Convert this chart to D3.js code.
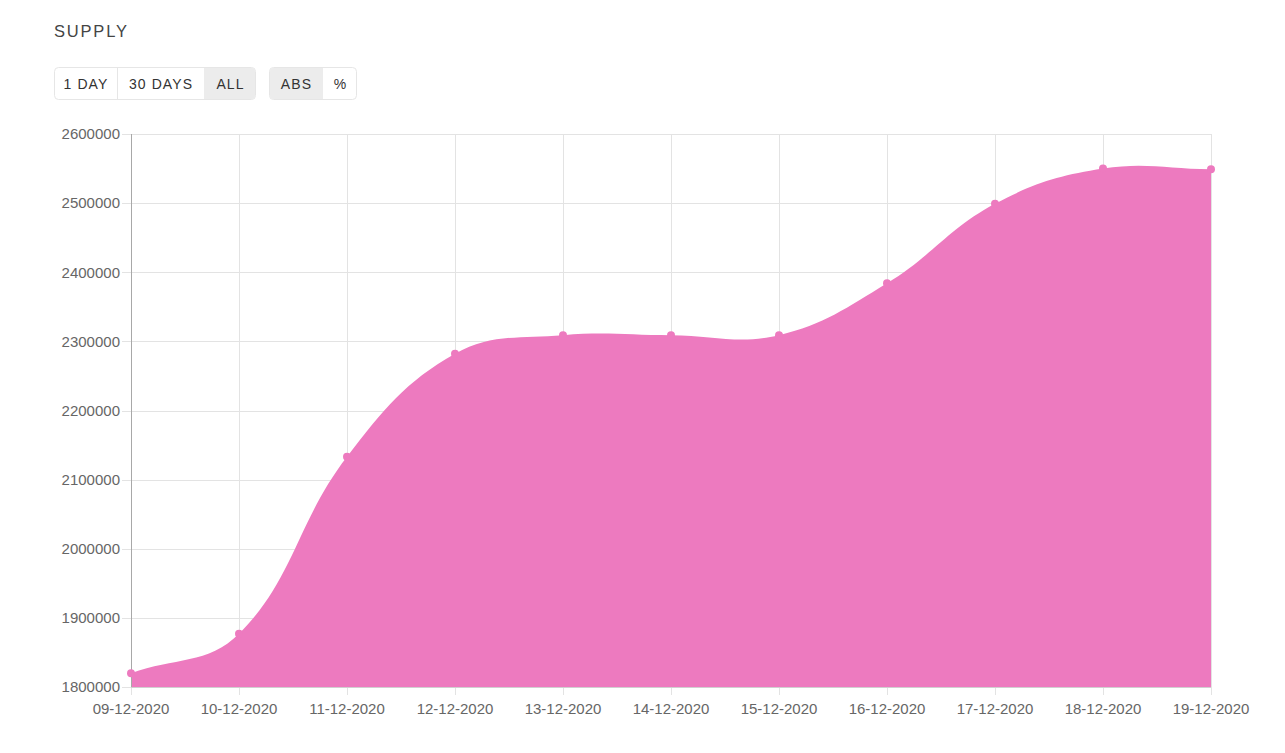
<!DOCTYPE html>
<html>
<head>
<meta charset="utf-8">
<script src="https://cdn.jsdelivr.net/npm/d3@7"></script>
<style>
  html, body { margin: 0; padding: 0; background: #fff; }
  svg { display: block; font-family: "Liberation Sans", Arial, sans-serif; }
</style>
</head>
<body>
<svg id="chart" width="1285" height="753"></svg>
<script>
const dates = ["09-12-2020","10-12-2020","11-12-2020","12-12-2020","13-12-2020","14-12-2020","15-12-2020","16-12-2020","17-12-2020","18-12-2020","19-12-2020"];
const supply = [1820000, 1877000, 2133000, 2282000, 2309000, 2309000, 2309000, 2384000, 2499000, 2550000, 2549000];
const yTicks = [1800000, 1900000, 2000000, 2100000, 2200000, 2300000, 2400000, 2500000, 2600000];
const rangeButtons = ["1 DAY", "30 DAYS", "ALL"];
const modeButtons = ["ABS", "%"];

const svg = d3.select("#chart");
const pLeft = 131, pRight = 1211, pTop = 134, pBottom = 687;
const pink = "#ed7abf";

// Title
svg.append("text").attr("x", 54).attr("y", 37)
  .attr("font-size", 16.5).attr("letter-spacing", 1.8).attr("fill", "#444")
  .text("SUPPLY");

// Button groups
function buttonGroup(x0, labels, widths, active) {
  const g = svg.append("g");
  const total = d3.sum(widths);
  g.append("rect").attr("x", x0 + 0.5).attr("y", 67.5).attr("width", total - 1).attr("height", 32)
    .attr("rx", 4).attr("fill", "#fff").attr("stroke", "#e6e6e6");
  let xx = x0;
  labels.forEach((l, i) => {
    if (i === active) {
      const w = widths[i];
      const isLast = i === labels.length - 1, isFirst = i === 0;
      const r = 3, y0 = 68, y1 = 99, xa = xx + (isFirst ? 1 : 0), xb = xx + w - (isLast ? 1 : 0);
      const p = d3.path();
      if (isFirst) { p.moveTo(xa + r, y0); } else { p.moveTo(xa, y0); }
      if (isLast) { p.lineTo(xb - r, y0); p.arcTo(xb, y0, xb, y0 + r, r); p.lineTo(xb, y1 - r); p.arcTo(xb, y1, xb - r, y1, r); }
      else { p.lineTo(xb, y0); p.lineTo(xb, y1); }
      if (isFirst) { p.lineTo(xa + r, y1); p.arcTo(xa, y1, xa, y1 - r, r); p.lineTo(xa, y0 + r); p.arcTo(xa, y0, xa + r, y0, r); }
      else { p.lineTo(xa, y1); }
      p.closePath();
      g.append("path").attr("d", p.toString()).attr("fill", "#ececec");
    }
    if (i > 0 && i !== active && i - 1 !== active) {
      g.append("line").attr("x1", xx + 0.5).attr("x2", xx + 0.5).attr("y1", 68).attr("y2", 99).attr("stroke", "#e6e6e6");
    }
    g.append("text").attr("x", xx + widths[i] / 2 + 0.5).attr("y", 89)
      .attr("text-anchor", "middle").attr("font-size", 14).attr("letter-spacing", 1.1)
      .attr("fill", "#333").text(l);
    xx += widths[i];
  });
}
buttonGroup(54, rangeButtons, [63, 87, 52], 2);
buttonGroup(269, modeButtons, [54, 34], 0);

// Scales
const x = d3.scalePoint().domain(dates).range([pLeft, pRight]);
const y = d3.scaleLinear().domain([1800000, 2600000]).range([pBottom, pTop]);

// Grid
const grid = svg.append("g");
yTicks.forEach(t => {
  grid.append("line").attr("x1", pLeft - 9).attr("x2", pRight).attr("y1", Math.round(y(t)) + 0.5).attr("y2", Math.round(y(t)) + 0.5)
    .attr("stroke", "#e3e3e3");
});
dates.forEach(d => {
  grid.append("line").attr("x1", Math.round(x(d)) + 0.5).attr("x2", Math.round(x(d)) + 0.5).attr("y1", pTop).attr("y2", pBottom + 8)
    .attr("stroke", "#e3e3e3");
});

// Chart.js style spline (tension 0.4)
const pts = dates.map((d, i) => ({ x: x(d), y: y(supply[i]) }));
const tension = 0.4;
const clampY = v => Math.max(pTop, Math.min(pBottom, v));
const clampX = v => Math.max(pLeft, Math.min(pRight, v));
const cps = pts.map((cur, i) => {
  const prev = pts[i - 1] || cur, next = pts[i + 1] || cur;
  const d01 = Math.hypot(cur.x - prev.x, cur.y - prev.y);
  const d12 = Math.hypot(next.x - cur.x, next.y - cur.y);
  let s01 = d01 / (d01 + d12), s12 = d12 / (d01 + d12);
  if (isNaN(s01)) s01 = 0; if (isNaN(s12)) s12 = 0;
  const fa = tension * s01, fb = tension * s12;
  return {
    px: clampX(cur.x - fa * (next.x - prev.x)), py: clampY(cur.y - fa * (next.y - prev.y)),
    nx: clampX(cur.x + fb * (next.x - prev.x)), ny: clampY(cur.y + fb * (next.y - prev.y))
  };
});
const ap = d3.path();
ap.moveTo(pts[0].x, pts[0].y);
for (let i = 1; i < pts.length; i++) {
  ap.bezierCurveTo(cps[i - 1].nx, cps[i - 1].ny, cps[i].px, cps[i].py, pts[i].x, pts[i].y);
}
ap.lineTo(pts[pts.length - 1].x, y(1800000));
ap.lineTo(pts[0].x, y(1800000));
ap.closePath();
svg.append("path").attr("d", ap.toString()).attr("fill", pink);

// Axes lines
svg.append("line").attr("x1", pLeft + 0.5).attr("x2", pLeft + 0.5).attr("y1", pTop).attr("y2", pBottom)
  .attr("stroke", "#a8a8a8");
svg.append("line").attr("x1", pLeft).attr("x2", pRight).attr("y1", pBottom + 0.5).attr("y2", pBottom + 0.5)
  .attr("stroke", "#d0d0d0");

// Points
svg.append("g").selectAll("circle").data(supply).join("circle")
  .attr("cx", (v, i) => x(dates[i])).attr("cy", v => y(v)).attr("r", 4).attr("fill", pink);

// Labels
svg.append("g").selectAll("text").data(yTicks).join("text")
  .attr("x", 120).attr("y", d => y(d)).attr("dy", "0.35em").attr("text-anchor", "end")
  .attr("font-size", 15).attr("fill", "#666").text(d => d);
svg.append("g").selectAll("text").data(dates).join("text")
  .attr("x", d => x(d)).attr("y", 714).attr("text-anchor", "middle")
  .attr("font-size", 15).attr("fill", "#666").text(d => d);
</script>
</body>
</html>
